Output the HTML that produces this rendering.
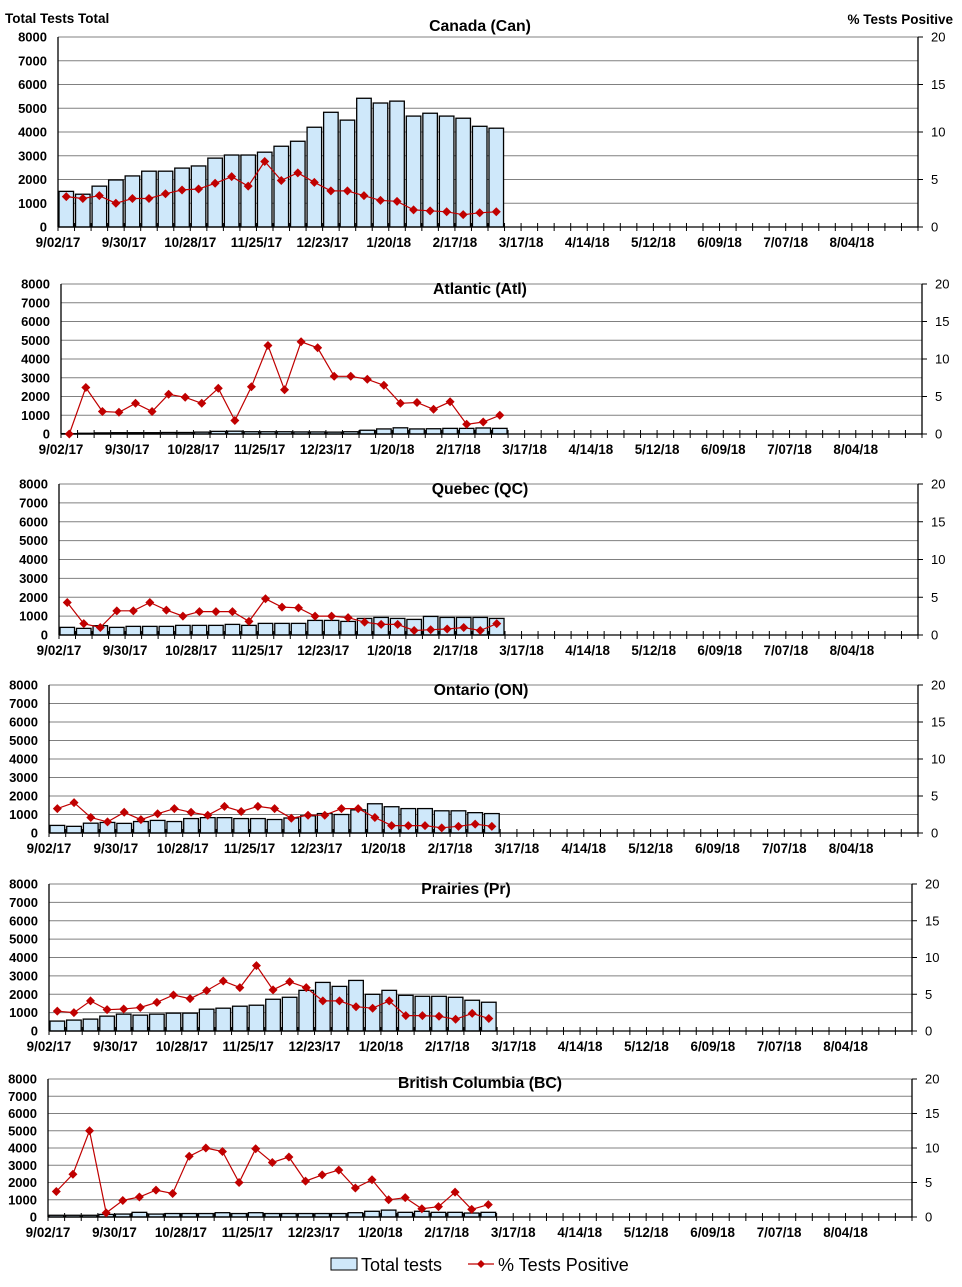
<!DOCTYPE html>
<html><head><meta charset="utf-8"><style>
html,body{margin:0;padding:0;background:#fff;}
svg{display:block;font-family:"Liberation Sans",Arial,sans-serif;}
</style></head><body>
<svg id="chart" width="962" height="1287" viewBox="0 0 962 1287" xmlns="http://www.w3.org/2000/svg">
<text x="5" y="23" font-size="13.5" font-weight="bold">Total Tests  Total</text>
<text x="953" y="24" font-size="13.5" font-weight="bold" text-anchor="end">% Tests  Positive</text>
<g>
<rect x="331" y="1258" width="26" height="12" fill="#cfe8fa" stroke="#000" stroke-width="1"/>
<text x="361" y="1271" font-size="18">Total tests</text>
<line x1="468" y1="1264" x2="494" y2="1264" stroke="#c00000" stroke-width="1.2"/>
<path d="M481 1260 L485 1264 L481 1268 L477 1264 Z" fill="#c00000"/>
<text x="498" y="1271" font-size="18">% Tests Positive</text>
</g>
</svg>
<script>
const nCats = 52;
const tickLabels = ["9/02/17","9/30/17","10/28/17","11/25/17","12/23/17","1/20/18","2/17/18","3/17/18","4/14/18","5/12/18","6/09/18","7/07/18","8/04/18"];
const leftTicks = [0,1000,2000,3000,4000,5000,6000,7000,8000];
const rightTicks = [0,5,10,15,20];
const regionNames = ["Canada (Can)","Atlantic (Atl)","Quebec (QC)","Ontario (ON)","Prairies (Pr)","British Columbia (BC)"];
const canTotal = [1500,1380,1720,1980,2150,2350,2350,2480,2570,2900,3030,3030,3150,3400,3610,4200,4830,4500,5420,5220,5300,4670,4790,4670,4580,4240,4160];
const canPct = [3.2,3.0,3.3,2.5,3.0,3.0,3.5,3.9,4.0,4.6,5.3,4.3,6.9,4.9,5.7,4.7,3.8,3.8,3.3,2.8,2.7,1.8,1.7,1.6,1.3,1.5,1.6];
const atlTotal = [20,40,60,70,70,70,80,80,100,140,150,120,120,120,110,110,100,120,200,270,330,270,280,300,300,320,300];
const atlPct = [0,6.2,3.0,2.9,4.1,3.0,5.3,4.9,4.1,6.1,1.8,6.3,11.8,5.9,12.3,11.5,7.7,7.7,7.3,6.5,4.1,4.2,3.3,4.3,1.3,1.6,2.5];
const qcTotal = [404,351,492,404,457,457,457,510,510,510,562,510,615,615,615,773,773,720,878,931,878,826,984,931,931,931,878];
const qcPct = [4.3,1.5,1.0,3.2,3.2,4.3,3.3,2.5,3.1,3.1,3.1,1.8,4.8,3.7,3.6,2.5,2.5,2.3,1.7,1.4,1.4,0.6,0.7,0.8,1.0,0.6,1.5];
const onTotal = [410,360,530,570,520,620,680,620,780,830,830,780,780,730,810,930,1050,1000,1250,1580,1420,1320,1320,1200,1200,1100,1050];
const onPct = [3.3,4.1,2.1,1.5,2.8,1.8,2.6,3.3,2.8,2.4,3.6,2.9,3.6,3.3,2.0,2.4,2.4,3.3,3.3,2.1,1.0,1.0,1.0,0.7,0.9,1.2,0.9];
const prTotal = [540,594,647,809,917,863,917,971,971,1187,1241,1349,1403,1727,1835,2212,2644,2428,2752,1996,2212,1942,1888,1888,1835,1673,1565];
const prPct = [2.7,2.5,4.1,2.9,3.0,3.2,3.9,4.9,4.4,5.5,6.8,5.9,8.9,5.6,6.7,5.9,4.1,4.1,3.3,3.1,4.1,2.1,2.1,2.0,1.6,2.4,1.7];
const bcTotal = [100,100,100,150,170,270,170,200,200,200,250,200,250,200,200,200,200,200,250,330,400,270,330,270,270,230,270];
const bcPct = [3.7,6.2,12.5,0.6,2.4,2.9,3.9,3.4,8.8,10.0,9.5,5.0,9.9,7.9,8.7,5.2,6.1,6.8,4.2,5.4,2.5,2.8,1.2,1.5,3.6,1.1,1.8];

const panels = [
 {l:58,r:918,t:37,b:227,tx:480,ty:31,tot:canTotal,pct:canPct,key:"canada"},
 {l:61,r:922,t:284,b:434,tx:480,ty:294,tot:atlTotal,pct:atlPct,key:"atlantic"},
 {l:59,r:918,t:484,b:635,tx:480,ty:494,tot:qcTotal,pct:qcPct,key:"quebec"},
 {l:49,r:918,t:685,b:833,tx:481,ty:695,tot:onTotal,pct:onPct,key:"ontario"},
 {l:49,r:912,t:884,b:1031,tx:466,ty:894,tot:prTotal,pct:prPct,key:"prairies"},
 {l:48,r:912,t:1079,b:1217,tx:480,ty:1088,tot:bcTotal,pct:bcPct,key:"bc"}
];
const NS="http://www.w3.org/2000/svg";
const svg=document.getElementById("chart");
function mk(tag,attrs,parent){const e=document.createElementNS(NS,tag);for(const k in attrs)e.setAttribute(k,attrs[k]);parent.appendChild(e);return e;}
panels.forEach((p,pi)=>{
  const g=mk("g",{},svg);
  
  
  const cw=(p.r-p.l)/nCats;
  const xB=i=>p.l+i*cw;
  const yL=v=>p.b-(v/8000)*(p.b-p.t);
  const yR=v=>p.b-(v/20)*(p.b-p.t);
  leftTicks.forEach(v=>{
    if(v>0){const gl=mk("line",{x1:p.l,x2:p.r,y1:yL(v),y2:yL(v),stroke:"#808080","stroke-width":1},g);
    
    }
    const t=mk("text",{x:p.l-11,y:yL(v)+4.5,"font-size":13,"font-weight":"bold","text-anchor":"end"},g);
    
    
    t.textContent=v;
  });
  rightTicks.forEach(v=>{
    const tk=mk("line",{x1:p.r,x2:p.r+5,y1:yR(v),y2:yR(v),stroke:"#000"},g);
    
    
    const t=mk("text",{x:p.r+13,y:yR(v)+4.5,"font-size":13,"text-anchor":"start"},g);
    
    
    t.textContent=v;
  });
  p.tot.forEach((v,i)=>{
    const r=mk("rect",{x:xB(i)+1,y:yL(v),width:cw-2,height:p.b-yL(v),fill:"#cfe8fa",stroke:"#000","stroke-width":1.3},g);
    
    
  });
  const la=mk("line",{x1:p.l,x2:p.l,y1:p.t,y2:p.b,stroke:"#000","stroke-width":1.3},g);
  
  
  const ra=mk("line",{x1:p.r,x2:p.r,y1:p.t,y2:p.b,stroke:"#000","stroke-width":1.3},g);
  
  
  const xa=mk("line",{x1:p.l,x2:p.r,y1:p.b,y2:p.b,stroke:"#000","stroke-width":1.3},g);
  
  
  for(let i=0;i<=nCats;i++){
    const tk=mk("line",{x1:xB(i),x2:xB(i),y1:p.b-4,y2:p.b+4,stroke:"#000"},g);
    
    
  }
  tickLabels.forEach((s,j)=>{
    const t=mk("text",{x:xB(j*4),y:p.b+20,"font-size":13.4,"font-weight":"bold","text-anchor":"middle"},g);
    
    
    t.textContent=s;
  });
  const pts=p.pct.map((v,i)=>(xB(i)+cw/2).toFixed(1)+","+yR(v).toFixed(1)).join(" ");
  const pl=mk("polyline",{points:pts,fill:"none",stroke:"#c00000","stroke-width":1.2},g);
  
  
  p.pct.forEach((v,i)=>{
    const cx=xB(i)+cw/2,cy=yR(v);
    const m=mk("path",{d:`M${cx} ${cy-4.5} L${cx+4.5} ${cy} L${cx} ${cy+4.5} L${cx-4.5} ${cy} Z`,fill:"#c00000"},g);
    
    
  });
  const tt=mk("text",{x:p.tx,y:p.ty,"font-size":15.8,"font-weight":"bold","text-anchor":"middle"},g);
  
  
  tt.textContent=regionNames[pi];
});
</script>
</body></html>
